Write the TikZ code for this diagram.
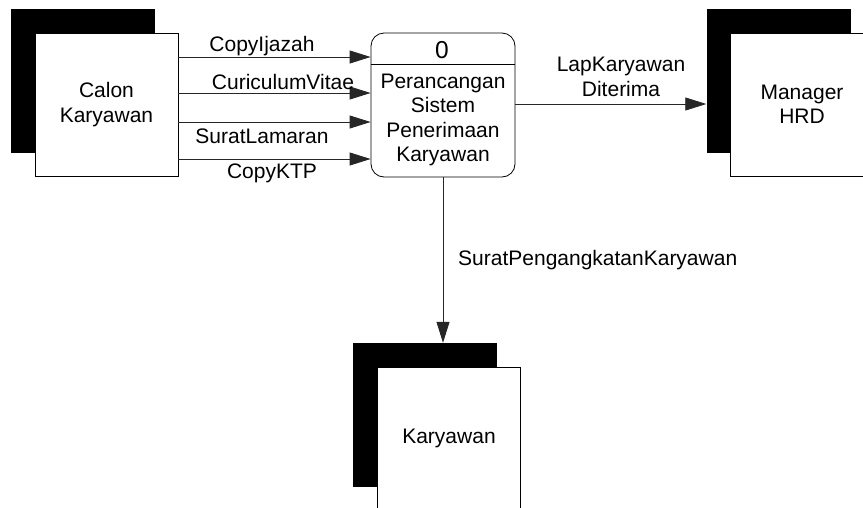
\documentclass[tikz,border=0pt]{standalone}
\usepackage{fontspec}
\setmainfont{Liberation Sans}
\usetikzlibrary{arrows.meta}
\begin{document}
\begin{tikzpicture}[x=1pt,y=-1pt,
  font=\fontsize{21}{24.5}\selectfont,
  entity/.style={draw=black, line width=0.8pt, fill=white, minimum width=143pt,
    minimum height=143pt, inner sep=0pt, align=center},
  backshade/.style={fill=black, draw=none, minimum width=144pt,
    minimum height=144pt, inner sep=0pt},
  procbox/.style={draw=black, line width=0.8pt, rounded corners=13pt,
    minimum width=144pt, minimum height=144pt, inner sep=0pt},
  flow/.style={draw=black!85, line width=0.8pt, -{Triangle[length=21pt,width=13pt]}},
  lbl/.style={inner sep=0pt, anchor=base}]
\useasboundingbox (0,0) rectangle (863,507);

% external entities: black offset block behind a white box
\node[backshade] (calonS) at (83,81) {};
\node[entity] (calon) at (106.5,104.5) {Calon\\Karyawan};

\node[backshade] (mgrS) at (778.5,81) {};
\node[entity] (mgr) at (802,104.5) {Manager\\HRD};

\node[backshade] (karS) at (424.5,415) {};
\node[entity] (kar) at (449,438.5) {Karyawan};

% process
\node[procbox] (proc) at (443,105) {};
\draw[line width=0.8pt] (proc.west |- 0,64) -- (proc.east |- 0,64);
\node[lbl, font=\fontsize{24.5}{28}\selectfont] (procid) at (442,58) {0};
\node[align=center, inner sep=0pt] (proctext) at (443,120)
  {Perancangan\\Sistem\\Penerimaan\\Karyawan};

% inputs
\draw[flow] (calon.east |- 0,57) -- (proc.west |- 0,57);
\draw[flow] (calon.east |- 0,93) -- (proc.west |- 0,93);
\draw[flow] (calon.east |- 0,122) -- (proc.west |- 0,122);
\draw[flow] (calon.east |- 0,159) -- (proc.west |- 0,159);
\node[lbl] (l1) at (262,51) {CopyIjazah};
\node[lbl] (l2) at (283,89) {CuriculumVitae};
\node[lbl] (l3) at (262,143) {SuratLamaran};
\node[lbl] (l4) at (272,178) {CopyKTP};

% outputs
\draw[flow] (proc.east |- 0,104) -- (mgrS.west |- 0,104);
\node[align=center, inner sep=0pt] (l5) at (621,77) {LapKaryawan\\Diterima};

\draw[flow] (proc.south) -- (proc.south |- karS.north);
\node[lbl, anchor=base west] (l6) at (458,265) {SuratPengangkatanKaryawan};
\end{tikzpicture}
\end{document}
